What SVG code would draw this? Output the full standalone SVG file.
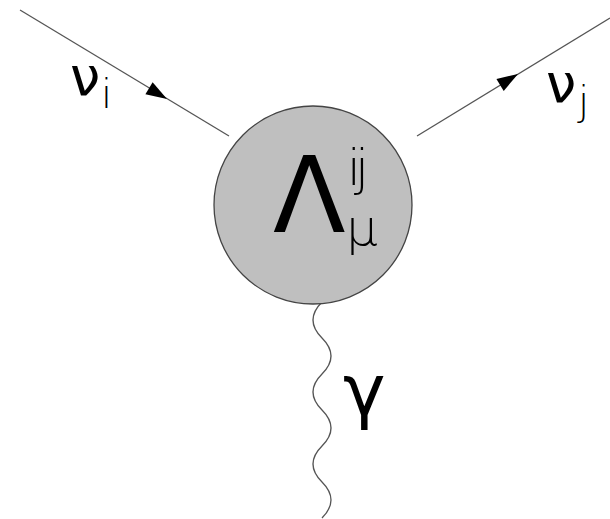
<svg xmlns="http://www.w3.org/2000/svg" width="610" height="519" viewBox="0 0 610 519">
<style>
.line{stroke:#555;stroke-width:1.3;fill:none}
.arr{fill:#000}
.lbl{font-family:"DejaVu Sans",sans-serif;fill:#000}
.sub{font-family:"DejaVu Sans",sans-serif;fill:#000;font-weight:300}
</style>
<g id="connectors">
<line class="line" x1="20" y1="10" x2="229" y2="136"/>
<polygon class="arr" points="0,0 -21,-7 -21,7" transform="translate(167,99) rotate(31.1)"/>
<line class="line" x1="417" y1="136" x2="610" y2="18"/>
<polygon class="arr" points="0,0 -21,-7 -21,7" transform="translate(518,74) rotate(-31.4)"/>
<path class="line" d="M322,302 C310,314 310,326 322,338 C334,350 334,362 322,374 C310,386 310,398 322,410 C334,422 334,434 322,446 C310,458 310,470 322,482 C334,494 334,506 322,518"/>
</g>
<g id="vertex">
<circle cx="313" cy="205" r="99" fill="#bfbfbf" stroke="#444" stroke-width="1.3"/>
<text class="lbl" x="273" y="232" font-size="106">Λ</text>
<text class="sub" x="347" y="185" font-size="50" letter-spacing="-6">ij</text>
<text class="sub" x="346" y="245" font-size="50">μ</text>
</g>
<g id="nu_i">
<text class="lbl" x="70" y="95" font-size="54">ν</text>
<text class="sub" x="101" y="108" font-size="40">i</text>
</g>
<g id="nu_j">
<text class="lbl" x="546" y="102" font-size="54">ν</text>
<text class="sub" x="578" y="115" font-size="40">j</text>
</g>
<g id="gamma">
<text class="lbl" x="343" y="415" font-size="72">γ</text>
</g>
</svg>
